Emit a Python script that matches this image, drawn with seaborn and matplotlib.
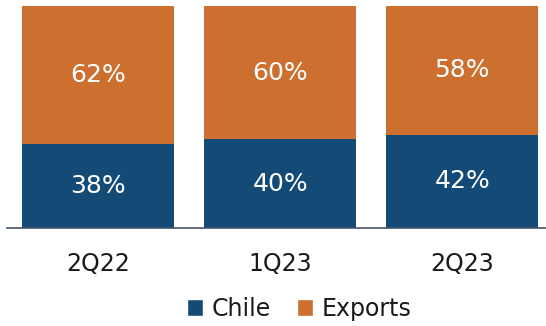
import matplotlib
matplotlib.use("Agg")
import matplotlib.pyplot as plt
import seaborn as sns
import pandas as pd
from matplotlib.patches import Patch

categories = ["2Q22", "1Q23", "2Q23"]
chile = [38, 40, 42]
exports = [62, 60, 58]
series_names = ["Chile", "Exports"]
colors = ["#134A76", "#CC6F2F"]

sns.set_theme(style="white")
plt.rcParams['font.family'] = ['DejaVu Sans']

df = pd.DataFrame({"cat": categories, "Chile": chile, "Exports": exports})
df["total"] = df["Chile"] + df["Exports"]

fig = plt.figure(figsize=(5.46, 3.26), dpi=100)
ax = fig.add_axes([7/546, 1 - 228/326, 1 - 7/546, (228 - 6)/326])

sns.barplot(data=df, x="cat", y="total", color=colors[1], width=0.835, ax=ax,
            saturation=1, linewidth=0)
sns.barplot(data=df, x="cat", y="Chile", color=colors[0], width=0.835, ax=ax,
            saturation=1, linewidth=0)

for i, (c, e) in enumerate(zip(chile, exports)):
    ax.text(i, c / 2, f"{c}%", ha="center", va="center", color="white", fontsize=18)
    ax.text(i, c + e / 2, f"{e}%", ha="center", va="center", color="white", fontsize=18)

ax.set_ylim(0, 100)
ax.set_xlim(-0.5, 2.46)
ax.set_xlabel("")
ax.set_ylabel("")
ax.set_yticks([])
ax.tick_params(axis="x", length=0, pad=17, labelsize=17, labelcolor="#1a1a1a")
for s in ["top", "right", "left"]:
    ax.spines[s].set_visible(False)
ax.spines["bottom"].set_color("#44546A")
ax.spines["bottom"].set_linewidth(1.2)

handles = [Patch(facecolor=colors[0], label=series_names[0]),
           Patch(facecolor=colors[1], label=series_names[1])]
fig.legend(handles=handles, loc="center", bbox_to_anchor=(299/546, 1 - 309/326), ncol=2,
           frameon=False, fontsize=17, handlelength=0.7, handleheight=0.7,
           handletextpad=0.35, columnspacing=1.1, labelcolor="#1a1a1a")

fig.savefig("out.png", dpi=100)
